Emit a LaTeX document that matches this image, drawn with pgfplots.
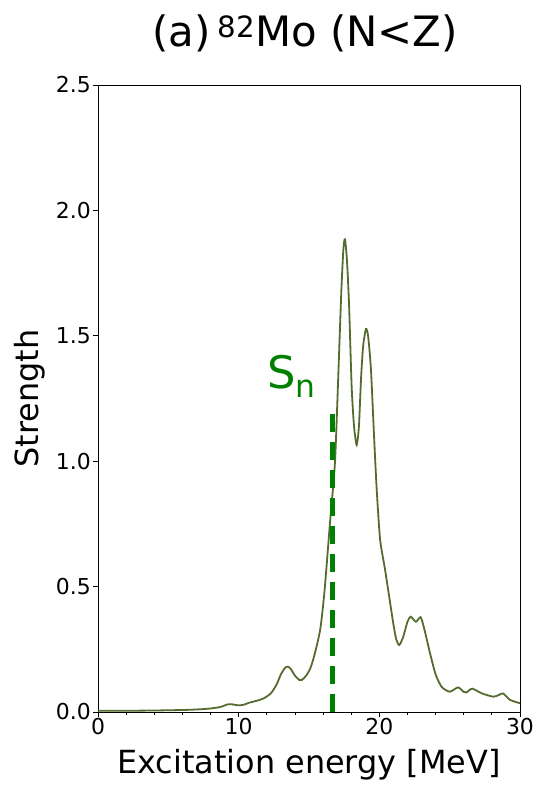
\documentclass[border=0pt]{standalone}
\usepackage{pgfplots}
\pgfplotsset{compat=1.18}
\usepackage{fontspec}
\setmainfont{DejaVu Sans}
\definecolor{olive}{RGB}{85,107,47}
\definecolor{sngreen}{RGB}{0,128,0}
\begin{document}
\begin{tikzpicture}
\begin{axis}[
  scale only axis, width=422bp, height=627bp,
  at={(0,0)}, anchor=south west,
  xmin=0, xmax=30, ymin=0, ymax=2.5,
  xtick={0,10,20,30}, minor x tick num=4,
  ytick={0,0.5,1.0,1.5,2.0,2.5},
  yticklabel style={inner sep=2bp, /pgf/number format/.cd, fixed, fixed zerofill, precision=1},
  /pgf/number format/assume math mode=true,
  tick align=outside, tick pos=left,
  major tick length=5bp, minor tick length=3bp,
  tick style={black, line width=0.8bp},
  axis line style={line width=0.8bp},
  ticklabel style={font=\fontsize{22}{26}\selectfont},
  xticklabel style={inner sep=1bp},
  xlabel={Excitation energy [MeV]},
  ylabel={Strength},
  label style={font=\fontsize{32}{36}\selectfont},
  xlabel style={at={(rel axis cs:0.5,0)}, anchor=base, yshift=-61bp},
  ylabel style={at={(rel axis cs:0,0.5)}, anchor=center, yshift=68bp},
  title={(a)\,\textsuperscript{82}Mo (N<Z)},
  title style={at={(rel axis cs:0.5,1)}, anchor=base, yshift=33bp, xshift=-4bp, font=\fontsize{42}{48}\selectfont},
]
\addplot[color=olive, line width=1.8bp, smooth, tension=0.4] coordinates {
(0,0.005) (2,0.005) (4,0.006) (6,0.008) (7,0.010) (8,0.014) (8.7,0.020)
(9.2,0.030) (9.5,0.031) (9.9,0.027) (10.3,0.028) (10.8,0.038) (11.3,0.045)
(11.8,0.055) (12.3,0.075) (12.7,0.11) (13.0,0.15) (13.3,0.176) (13.5,0.181)
(13.7,0.172) (14.0,0.145) (14.3,0.128) (14.5,0.128) (14.8,0.145) (15.1,0.175)
(15.4,0.23) (15.8,0.33) (16.1,0.48) (16.5,0.76) (16.85,1.0) (17.1,1.37)
(17.3,1.68) (17.45,1.85) (17.56,1.885) (17.7,1.80) (17.85,1.62) (18.03,1.30)
(18.2,1.14) (18.39,1.065) (18.55,1.14) (18.7,1.33) (18.85,1.46) (19.05,1.527)
(19.2,1.50) (19.4,1.37) (19.6,1.13) (19.8,0.90) (20.05,0.69) (20.4,0.57)
(20.7,0.46) (21.0,0.35) (21.2,0.29) (21.42,0.267) (21.7,0.30) (22.0,0.36)
(22.23,0.38) (22.6,0.36) (22.94,0.378) (23.2,0.33) (23.6,0.235) (24.0,0.15)
(24.43,0.10) (25.0,0.081) (25.6,0.098) (26.0,0.08) (26.2,0.078) (26.6,0.093)
(27.3,0.074) (28.1,0.061) (28.5,0.068) (28.8,0.074) (29.3,0.048) (30,0.035)
};
\addplot[color=sngreen, line width=5bp, dash pattern=on 18bp off 10bp] coordinates {(16.7,0) (16.7,1.2)};
\node[anchor=base west, text=sngreen, font=\fontsize{45}{50}\selectfont, inner sep=0pt] at (axis cs:12.0,1.29) {S\textsubscript{n}};
\end{axis}
\pgfresetboundingbox
\path[use as bounding box] (-98bp,-73bp) rectangle (440bp,712bp);
\end{tikzpicture}
\end{document}
